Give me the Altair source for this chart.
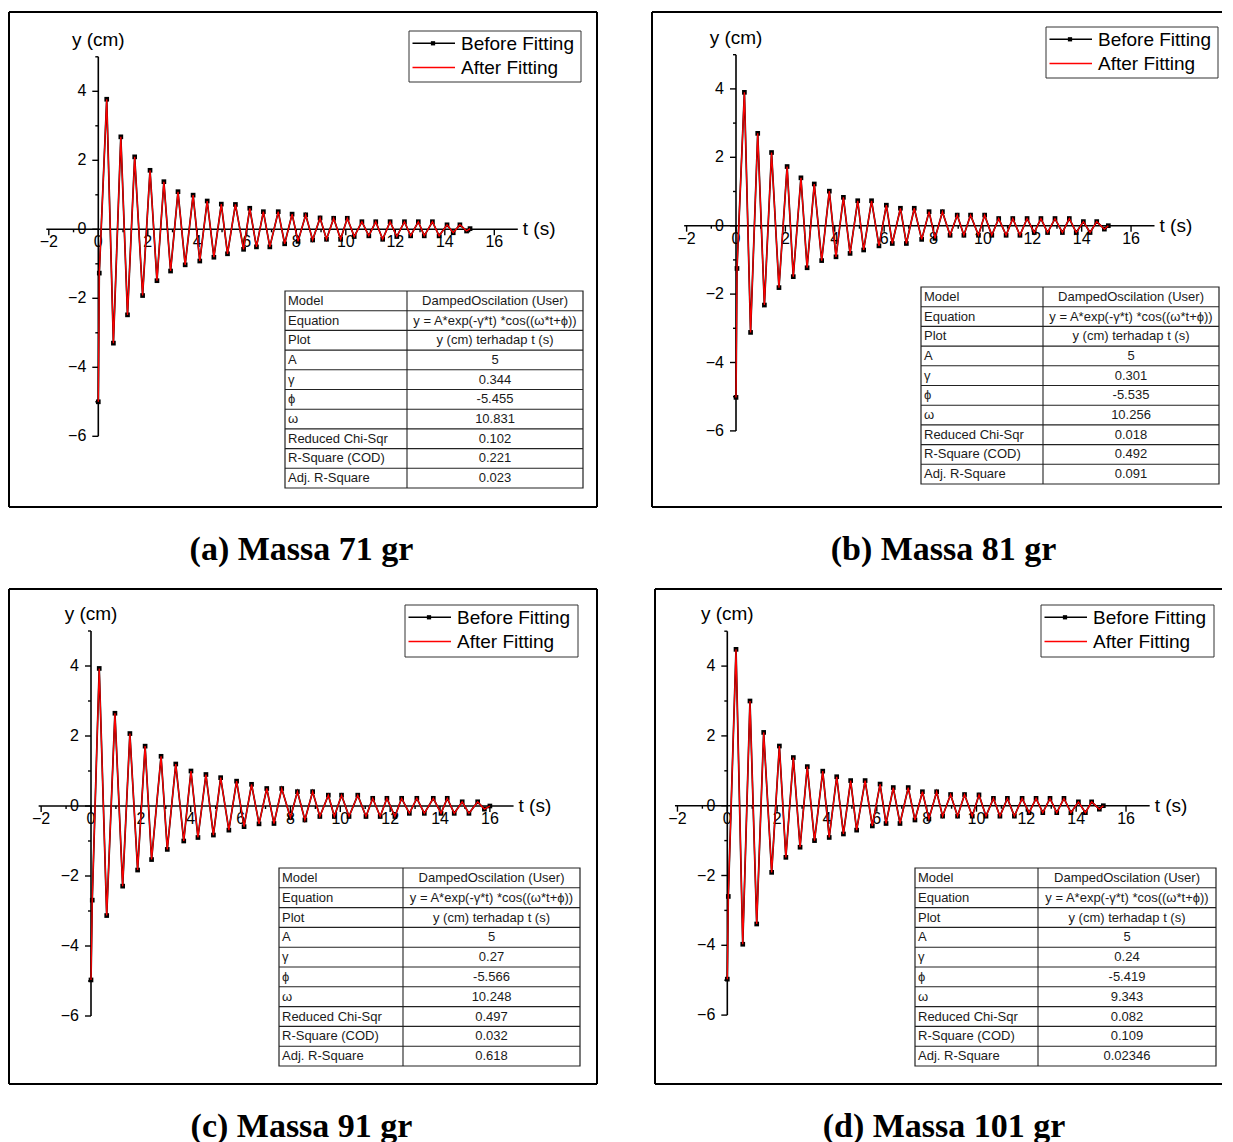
import altair as alt
import pandas as pd

# ---------------- data ----------------
a_t = [0.0, 0.04, 0.34, 0.61, 0.91, 1.18, 1.47, 1.79, 2.09, 2.37, 2.65, 2.92, 3.22, 3.51, 3.83, 4.10, 4.40, 4.67, 4.97, 5.22,
       5.54, 5.87, 6.12, 6.39, 6.67, 6.93, 7.27, 7.53, 7.83, 8.07, 8.38, 8.66, 8.96, 9.22, 9.51, 9.79, 10.06, 10.34, 10.65, 10.93,
       11.21, 11.49, 11.79, 12.06, 12.37, 12.62, 12.93, 13.17, 13.50, 13.77, 14.09, 14.34, 14.61, 14.88, 15.02]
a_y = [-5.0, -1.27, 3.77, -3.30, 2.68, -2.48, 2.10, -1.92, 1.71, -1.49, 1.38, -1.21, 1.09, -1.03, 0.99, -0.92, 0.82, -0.81, 0.73, -0.71,
       0.72, -0.58, 0.61, -0.51, 0.51, -0.51, 0.51, -0.42, 0.44, -0.35, 0.42, -0.31, 0.33, -0.29, 0.32, -0.29, 0.32, -0.21, 0.22, -0.19,
       0.22, -0.29, 0.22, -0.21, 0.22, -0.19, 0.22, -0.19, 0.22, -0.19, 0.13, -0.10, 0.13, -0.05, 0.02]

b_t = [0.0, 0.04, 0.34, 0.59, 0.88, 1.15, 1.44, 1.74, 2.07, 2.32, 2.63, 2.88, 3.17, 3.47, 3.78, 4.05, 4.35, 4.62, 4.93, 5.17,
       5.49, 5.79, 6.09, 6.33, 6.66, 6.90, 7.22, 7.52, 7.82, 8.06, 8.36, 8.67, 8.96, 9.23, 9.50, 9.82, 10.07, 10.36, 10.64, 10.94,
       11.21, 11.50, 11.79, 12.08, 12.35, 12.62, 12.92, 13.22, 13.50, 13.78, 14.07, 14.34, 14.61, 14.92, 15.08]
b_y = [-5.02, -1.25, 3.90, -3.12, 2.70, -2.32, 2.14, -1.81, 1.73, -1.49, 1.40, -1.23, 1.22, -1.02, 1.01, -0.91, 0.83, -0.81, 0.73, -0.71,
       0.73, -0.59, 0.60, -0.52, 0.51, -0.52, 0.51, -0.40, 0.41, -0.37, 0.41, -0.28, 0.31, -0.28, 0.31, -0.28, 0.31, -0.28, 0.21, -0.28,
       0.21, -0.28, 0.21, -0.20, 0.21, -0.20, 0.21, -0.20, 0.21, -0.20, 0.12, -0.20, 0.12, -0.10, 0.0]

c_t = [0.0, 0.05, 0.33, 0.63, 0.96, 1.27, 1.56, 1.87, 2.17, 2.43, 2.81, 3.06, 3.40, 3.72, 4.01, 4.29, 4.61, 4.91, 5.20, 5.53,
       5.84, 6.14, 6.44, 6.74, 7.05, 7.34, 7.65, 8.00, 8.28, 8.58, 8.89, 9.18, 9.52, 9.76, 10.05, 10.35, 10.70, 11.03, 11.30, 11.60,
       11.87, 12.19, 12.46, 12.77, 13.07, 13.37, 13.73, 14.04, 14.29, 14.57, 14.89, 15.16, 15.51, 15.78, 16.0]
c_y = [-4.97, -2.69, 3.93, -3.13, 2.65, -2.29, 2.07, -1.83, 1.71, -1.53, 1.42, -1.24, 1.20, -1.00, 1.00, -0.90, 0.90, -0.83, 0.81, -0.69,
       0.71, -0.59, 0.62, -0.51, 0.50, -0.50, 0.50, -0.33, 0.41, -0.40, 0.41, -0.30, 0.31, -0.30, 0.31, -0.30, 0.31, -0.30, 0.22, -0.30,
       0.22, -0.30, 0.22, -0.21, 0.22, -0.21, 0.22, -0.21, 0.22, -0.21, 0.12, -0.21, 0.12, -0.09, 0.0]

d_t = [0.0, 0.04, 0.35, 0.62, 0.91, 1.18, 1.46, 1.78, 2.09, 2.35, 2.65, 2.92, 3.21, 3.50, 3.83, 4.09, 4.39, 4.66, 4.95, 5.19,
       5.53, 5.82, 6.13, 6.37, 6.66, 6.93, 7.26, 7.53, 7.83, 8.09, 8.40, 8.64, 8.96, 9.24, 9.52, 9.83, 10.10, 10.38, 10.68, 10.94,
       11.24, 11.52, 11.83, 12.11, 12.39, 12.66, 12.95, 13.22, 13.51, 13.79, 14.09, 14.37, 14.62, 14.93, 15.09]
d_y = [-4.97, -2.6, 4.48, -3.97, 3.00, -3.39, 2.10, -1.91, 1.71, -1.48, 1.38, -1.19, 1.12, -1.00, 0.99, -0.91, 0.83, -0.81, 0.72, -0.70,
       0.72, -0.58, 0.62, -0.51, 0.52, -0.51, 0.52, -0.41, 0.40, -0.38, 0.40, -0.30, 0.32, -0.30, 0.32, -0.30, 0.31, -0.30, 0.21, -0.30,
       0.21, -0.30, 0.21, -0.20, 0.21, -0.20, 0.21, -0.20, 0.21, -0.20, 0.11, -0.20, 0.11, -0.10, 0.0]

row_labels = ["Model", "Equation", "Plot", "A", "\u03b3", "\u03d5", "\u03c9",
              "Reduced Chi-Sqr", "R-Square (COD)", "Adj. R-Square"]
model_name = "DampedOscilation (User)"
equation = "y = A*exp(-\u03b3*t) *cos((\u03c9*t+\u03d5))"
plot_desc = "y (cm) terhadap t (s)"
a_params = ["5", "0.344", "-5.455", "10.831", "0.102", "0.221", "0.023"]
b_params = ["5", "0.301", "-5.535", "10.256", "0.018", "0.492", "0.091"]
c_params = ["5", "0.27", "-5.566", "10.248", "0.497", "0.032", "0.618"]
d_params = ["5", "0.24", "-5.419", "9.343", "0.082", "0.109", "0.02346"]

captions = ["(a) Massa 71 gr", "(b) Massa 81 gr", "(c) Massa 91 gr", "(d) Massa 101 gr"]
legend_names = ["Before Fitting", "After Fitting"]
x_title = "t (s)"
y_title = "y (cm)"

x_major = [-2, 0, 2, 4, 6, 8, 10, 12, 14, 16]
x_minor = [-1, 1, 3, 5, 7, 9, 11, 13, 15]
y_major = [-6, -4, -2, 0, 2, 4]
y_minor = [-5, -3, -1, 1, 3, 5]
x_axis_span = [-2.1, 16.95]
y_axis_span = [-6, 5]

SANS = "Liberation Sans"
SERIF = "Liberation Serif"


def fmt(v):
    return ("\u2212" + str(abs(v))) if v < 0 else str(v)


def seg_df(rows):
    return pd.DataFrame(rows, columns=["x1", "x2", "y1", "y2"])


def panel(t, y, params, geom, leg, tab, cap_x, caption, closed):
    W, H, t0, y0, sx, sy = geom
    xlo, xhi = -t0 / sx, (W - t0) / sx
    ylo, yhi = -(H - y0) / sy, y0 / sy
    xs = alt.Scale(domain=[xlo, xhi], nice=False, zero=False)
    ys = alt.Scale(domain=[ylo, yhi], nice=False, zero=False)

    def px(p):
        return xlo + p / sx

    def py(p):
        return yhi - p / sy

    def X(f):
        return alt.X(f, type="quantitative", scale=xs, axis=None)

    def Y(f):
        return alt.Y(f, type="quantitative", scale=ys, axis=None)

    def rules(rows, color="black", w=1.0):
        return alt.Chart(seg_df(rows)).mark_rule(color=color, strokeWidth=w).encode(
            x=X("x1"), x2=alt.X2("x2"), y=Y("y1"), y2=alt.Y2("y2"))

    def texts(df, **kw):
        return alt.Chart(df).mark_text(**kw).encode(x=X("x"), y=Y("y"), text=alt.Text("s:N"))

    def box(x0, y0_, x1, y1, stroke, sw):
        df = pd.DataFrame({"x1": [px(x0)], "x2": [px(x1)], "y1": [py(y0_)], "y2": [py(y1)]})
        return alt.Chart(df).mark_rect(fill="white", stroke=stroke, strokeWidth=sw).encode(
            x=X("x1"), x2=alt.X2("x2"), y=Y("y1"), y2=alt.Y2("y2"))

    layers = []
    # panel frame
    fr = [(xlo, xhi, yhi, yhi), (xlo, xhi, ylo, ylo), (xlo, xlo, ylo, yhi)]
    if closed:
        fr.append((xhi, xhi, ylo, yhi))
    layers.append(rules(fr, w=2))

    # axes crossing at origin
    layers.append(rules([(x_axis_span[0], x_axis_span[1], 0, 0),
                         (0, 0, y_axis_span[0], y_axis_span[1])], w=1.6))
    ticks = [(v, v, 0, -6 / sy) for v in x_major] + [(v, v, 0, -3 / sy) for v in x_minor]
    ticks += [(0, -6 / sx, v, v) for v in y_major] + [(0, -3 / sx, v, v) for v in y_minor]
    layers.append(rules(ticks, w=1.4))
    layers.append(texts(pd.DataFrame({"x": x_major, "y": [0] * len(x_major),
                                      "s": [fmt(v) for v in x_major]}),
                        dy=13, align="center", baseline="middle", fontSize=16, font=SANS, color="black"))
    layers.append(texts(pd.DataFrame({"x": [0] * len(y_major), "y": y_major,
                                      "s": [fmt(v) for v in y_major]}),
                        dx=-12, align="right", baseline="middle", fontSize=16, font=SANS, color="black"))
    layers.append(texts(pd.DataFrame({"x": [x_axis_span[1]], "y": [0], "s": [x_title]}),
                        dx=5, align="left", baseline="middle", fontSize=19, font=SANS, color="black"))
    layers.append(texts(pd.DataFrame({"x": [0], "y": [y_axis_span[1]], "s": [y_title]}),
                        dy=-17, align="center", baseline="middle", fontSize=19, font=SANS, color="black"))

    # data
    df = pd.DataFrame({"t": t, "y": y})
    base = alt.Chart(df).encode(x=X("t"), y=Y("y"))
    layers.append(base.mark_line(color="black", strokeWidth=1.7))
    layers.append(base.mark_point(shape="square", filled=True, size=22, color="black", opacity=1))
    layers.append(base.mark_line(color="#ff0000", strokeWidth=1.3))

    # legend
    lx0, ly0, lx1, ly1 = leg
    layers.append(box(lx0, ly0, lx1, ly1, "#333333", 1))
    layers.append(rules([(px(lx0 + 3.5), px(lx0 + 46), py(ly0 + 12.3), py(ly0 + 12.3))], w=1.5))
    layers.append(rules([(px(lx0 + 3.5), px(lx0 + 46), py(ly0 + 36.6), py(ly0 + 36.6))], color="#ff0000", w=1.5))
    layers.append(alt.Chart(pd.DataFrame({"x": [px(lx0 + 24)], "y": [py(ly0 + 12.3)]})).mark_point(
        shape="square", filled=True, size=18, color="black", opacity=1).encode(x=X("x"), y=Y("y")))
    layers.append(texts(pd.DataFrame({"x": [px(lx0 + 52)] * 2, "y": [py(ly0 + 13.3), py(ly0 + 36.8)],
                                      "s": legend_names}),
                        align="left", baseline="middle", fontSize=19, font=SANS, color="black"))

    # fit table
    tx0, ty0, tx1, ty1, tc = tab
    rh = (ty1 - ty0) / 10.0
    layers.append(box(tx0, ty0, tx1, ty1, "#222222", 1.2))
    grid = [(px(tx0), px(tx1), py(ty0 + k * rh), py(ty0 + k * rh)) for k in range(1, 10)]
    grid.append((px(tc), px(tc), py(ty0), py(ty1)))
    layers.append(rules(grid, color="#222222", w=1.1))
    values = [model_name, equation, plot_desc] + params
    yc = [py(ty0 + (k + 0.5) * rh) for k in range(10)]
    layers.append(texts(pd.DataFrame({"x": [px(tx0 + 3)] * 10, "y": yc, "s": row_labels}),
                        align="left", baseline="middle", fontSize=13, font=SANS, color="#1a1a1a"))
    layers.append(texts(pd.DataFrame({"x": [px((tc + tx1) / 2.0)] * 10, "y": yc, "s": values}),
                        align="center", baseline="middle", fontSize=13, font=SANS, color="#1a1a1a"))

    # caption
    layers.append(texts(pd.DataFrame({"x": [px(cap_x)], "y": [py(H + 53)], "s": [caption]}),
                        align="center", baseline="alphabetic", fontSize=34, font=SERIF,
                        fontWeight="bold", color="black"))

    return alt.layer(*layers).properties(width=W, height=H)


pa = panel(a_t, a_y, a_params, (588, 495, 89.3, 217.3, 24.75, 34.5),
           (400, 19, 572, 70), (276, 279, 574, 476, 398), 292.5, captions[0], True)
pb = panel(b_t, b_y, b_params, (570, 495, 84.0, 213.7, 24.69, 34.2),
           (394, 15, 566, 66), (269, 275, 567, 472, 391), 291.5, captions[1], False)
pc = panel(c_t, c_y, c_params, (588, 495, 82.0, 217.0, 24.93, 35.0),
           (396, 16, 569, 68), (270, 279, 571, 477, 394), 292.5, captions[2], True)
pd_ = panel(d_t, d_y, d_params, (567, 495, 72.3, 216.7, 24.92, 34.9),
            (386, 16, 559, 68), (260, 279, 561, 477, 383), 289.0, captions[3], False)

row1 = alt.hconcat(pa, pb, spacing=53)
row2 = alt.hconcat(pc, pd_, spacing=56)
chart = alt.vconcat(row1, row2, spacing=21).configure_view(stroke=None).properties(
    padding={"left": 0, "top": 3, "right": 0, "bottom": 0}, background="white")

chart.save("out.html", embed_options={"renderer": "svg", "actions": False})
